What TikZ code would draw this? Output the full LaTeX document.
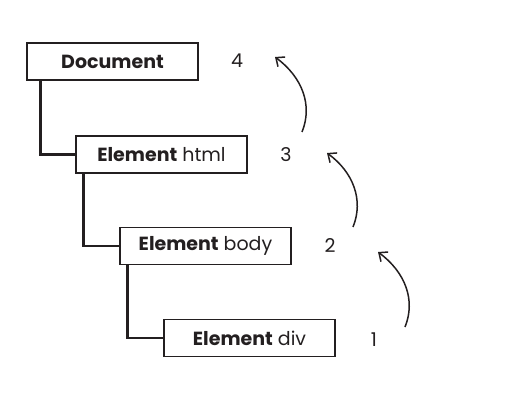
\documentclass[tikz,border=0pt]{standalone}
\usepackage{fontspec}
\setmainfont{Poppins}
\usetikzlibrary{arrows.meta}
\definecolor{ink}{HTML}{231F20}
\begin{document}
\begin{tikzpicture}[x=1pt,y=-1pt,
  nodebox/.style={draw=ink,line width=1.6pt,minimum width=171pt,minimum height=37pt,
    inner sep=0pt,font=\fontsize{19}{22}\selectfont,text=ink},
  num/.style={font=\fontsize{19}{22}\selectfont,text=ink},
  tree/.style={draw=ink,line width=2.6pt},
  hop/.style={draw=ink,line width=1.5pt,-{Straight Barb[length=7pt,width=12pt,line width=1.5pt]}}]
\useasboundingbox (0,0) rectangle (510,403);
\node[nodebox] (doc)  at (112.5,61.5)  {\textbf{Document}};
\node[nodebox] (html) at (161.5,154.5) {\textbf{Element} html};
\node[nodebox] (body) at (205.5,246)   {\textbf{Element} body};
\node[nodebox] (div)  at (249.5,338)   {\textbf{Element} div};
\node[num] (n4) at (237,61)  {4};
\node[num] (n3) at (286,155) {3};
\node[num] (n2) at (330,246) {2};
\node[num] (n1) at (374,340) {1};
% parent-child links
\draw[tree] ([xshift=14pt]doc.south west) |- (html.west);
\draw[tree] ([xshift=8pt]html.south west) |- (body.west);
\draw[tree] ([xshift=8pt]body.south west) |- (div.west);
% upward steps
\coordinate (a1) at (405,327); \coordinate (t1) at (378,252);
\coordinate (a2) at (353,227); \coordinate (t2) at (327,153);
\coordinate (a3) at (302,132); \coordinate (t3) at (275,57);
\draw[hop] (a1) .. controls (416,300) and (405,272) .. (t1);
\draw[hop] (a2) .. controls (364,200) and (353,172) .. (t2);
\draw[hop] (a3) .. controls (313,105) and (302,77) .. (t3);
\end{tikzpicture}
\end{document}
